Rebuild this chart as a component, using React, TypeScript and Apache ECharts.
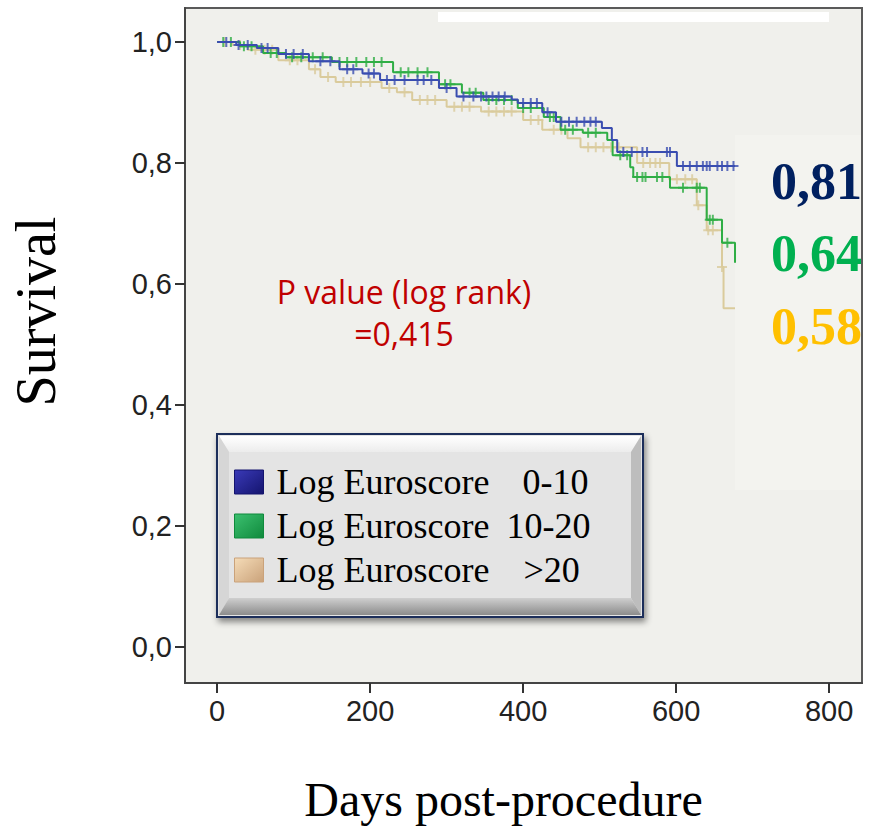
import React, { useEffect, useRef } from "react";
import * as echarts from "echarts";

// Kaplan-Meier steps (day, survival)
const blueTimes = [0, 25, 52, 80, 120, 160, 190, 213, 290, 313, 385, 393, 425, 443, 503, 516, 523, 601, 677];
const blueSurv = [1.0, 0.995, 0.99, 0.98, 0.968, 0.955, 0.948, 0.937, 0.924, 0.91, 0.905, 0.899, 0.884, 0.868, 0.858, 0.838, 0.818, 0.795, 0.795];
const greenTimes = [0, 30, 60, 90, 150, 230, 290, 320, 348, 393, 427, 449, 478, 510, 517, 540, 544, 592, 640, 660, 677];
const greenSurv = [1.0, 0.993, 0.982, 0.975, 0.967, 0.95, 0.93, 0.916, 0.904, 0.891, 0.876, 0.855, 0.85, 0.838, 0.813, 0.793, 0.777, 0.759, 0.706, 0.668, 0.635];
const tanTimes = [0, 20, 40, 80, 120, 135, 155, 215, 235, 255, 300, 345, 400, 425, 458, 475, 549, 591, 627, 640, 660, 662, 677];
const tanSurv = [1.0, 0.995, 0.987, 0.97, 0.955, 0.942, 0.934, 0.924, 0.917, 0.904, 0.893, 0.885, 0.871, 0.855, 0.841, 0.826, 0.8, 0.773, 0.73, 0.689, 0.628, 0.56, 0.56];

// Censored observations (days)
const blueCensor = [12, 28, 40, 58, 66, 90, 100, 112, 135, 148, 170, 178, 198, 205, 222, 232, 245, 262, 270, 280, 300, 322, 335, 345, 352, 360, 368, 376, 400, 410, 418, 432, 450, 460, 470, 480, 488, 495, 531, 542, 556, 562, 588, 592, 609, 618, 627, 635, 640, 644, 654, 660, 667, 675];
const greenCensor = [8, 18, 35, 45, 70, 78, 98, 110, 125, 138, 160, 170, 182, 195, 205, 215, 240, 250, 262, 275, 298, 305, 330, 338, 355, 365, 375, 385, 400, 410, 435, 440, 455, 465, 485, 495, 527, 536, 549, 556, 560, 575, 582, 609, 627, 631, 644, 648, 667];
const tanCensor = [10, 30, 50, 62, 72, 95, 105, 128, 145, 165, 175, 188, 200, 225, 245, 265, 275, 285, 310, 320, 330, 355, 365, 375, 385, 410, 420, 440, 450, 485, 495, 505, 515, 525, 557, 566, 573, 579, 601, 612, 621, 629, 642, 648, 660];

const seriesNames = ["Log Euroscore 0-10", "Log Euroscore 10-20", "Log Euroscore >20"];
const lineColors = ["#3a4db0", "#2fae45", "#dacb9c"];
const iconColors = [
  ["#3a3ab8", "#14146e"],
  ["#3cc070", "#0f8a3c"],
  ["#f5dcb8", "#caa27a"],
];
const xTicks = [0, 200, 400, 600, 800];
const yTicks = [0, 0.2, 0.4, 0.6, 0.8, 1.0];
const finalLabels = ["0,81", "0,64", "0,58"];
const finalLabelColors = ["#002060", "#00b050", "#ffc000"];

const stepValue = (times: number[], surv: number[], t: number) => {
  let v = surv[0];
  for (let i = 0; i < times.length; i++) {
    if (times[i] <= t) v = surv[i];
  }
  return v;
};

const plusSymbol = "path://M-1,-5h2v10h-2zM-5,-1h10v2h-10z";

export default function App() {
  const ref = useRef<HTMLDivElement>(null);
  useEffect(() => {
    if (!ref.current) return;
    const chart = echarts.init(ref.current, null, { renderer: "svg" });
    const groups = [
      { t: blueTimes, s: blueSurv, c: blueCensor },
      { t: greenTimes, s: greenSurv, c: greenCensor },
      { t: tanTimes, s: tanSurv, c: tanCensor },
    ];
    const series: any[] = [];
    groups.forEach((g, i) => {
      series.push({
        name: seriesNames[i],
        type: "line",
        step: "end",
        showSymbol: false,
        data: g.t.map((d, k) => [d, g.s[k]]),
        lineStyle: { color: lineColors[i], width: 2 },
        itemStyle: { color: lineColors[i] },
        z: 3 - i + 2,
      });
      series.push({
        name: seriesNames[i],
        type: "scatter",
        symbol: plusSymbol,
        symbolSize: 10,
        data: g.c.map((d) => [d, stepValue(g.t, g.s, d)]),
        itemStyle: { color: lineColors[i] },
        z: 3 - i + 2,
      });
    });

    const base = { fontFamily: "Liberation Serif", fontSize: 36, color: "#000", lineHeight: 38 };
    const richLegend: any = {
      s: { width: 8 },
      n: { ...base },
      v0: { ...base, padding: [0, 0, 0, 33] },
      v1: { ...base, padding: [0, 0, 0, 17] },
      v2: { ...base, padding: [0, 0, 0, 34] },
    };

    chart.setOption({
      animation: false,
      backgroundColor: "#ffffff",
      grid: {
        left: 185,
        top: 8,
        width: 677,
        height: 675,
        outerBoundsMode: "none",
        containLabel: false,
        show: true,
        backgroundColor: "#f0f0ec",
        borderColor: "#5a5a5a",
        borderWidth: 2,
      },
      xAxis: {
        type: "value",
        min: -42,
        max: 843,
        name: "Days post-procedure",
        nameLocation: "middle",
        nameGap: 92,
        nameTextStyle: { fontFamily: "Liberation Serif", fontSize: 48, color: "#000", padding: [0, 40, 0, 0] },
        axisLine: { show: true, onZero: false, lineStyle: { color: "#444", width: 2 } },
        axisTick: { show: true, customValues: xTicks, length: 10, lineStyle: { color: "#333", width: 2 } },
        axisLabel: {
          customValues: xTicks,
          fontFamily: "Liberation Sans",
          fontSize: 29,
          color: "#222",
          margin: 13,
        },
        splitLine: { show: false },
      },
      yAxis: {
        type: "value",
        min: -0.0595,
        max: 1.0562,
        name: "Survival",
        nameLocation: "middle",
        nameGap: 121,
        nameTextStyle: { fontFamily: "Liberation Serif", fontSize: 56, color: "#000", padding: [0, 0, 0, 68] },
        axisLine: { show: true, onZero: false, lineStyle: { color: "#444", width: 2 } },
        axisTick: { show: true, customValues: yTicks, length: 10, lineStyle: { color: "#333", width: 2 } },
        axisLabel: {
          customValues: yTicks,
          fontFamily: "Liberation Sans",
          fontSize: 29,
          color: "#222",
          margin: 13,
          formatter: (v: number) => v.toFixed(1).replace(".", ","),
        },
        splitLine: { show: false },
      },
      legend: {
        orient: "vertical",
        left: 229,
        top: 459,
        itemWidth: 29,
        itemHeight: 24,
        itemGap: 8,
        icon: "rect",
        selectedMode: false,
        z: 20,
        data: seriesNames.map((n, i) => ({
          name: n,
          icon: "rect",
          itemStyle: {
            color: new echarts.graphic.LinearGradient(0, 0, 1, 1, [
              { offset: 0, color: iconColors[i][0] },
              { offset: 1, color: iconColors[i][1] },
            ]),
            borderColor: iconColors[i][1],
            borderWidth: 1,
          },
        })),
        formatter: (name: string) => {
          const i = seriesNames.indexOf(name);
          const v = name.replace("Log Euroscore ", "");
          return `{s| }{n|Log Euroscore}{v${i}|${v}}`;
        },
        textStyle: { fontFamily: "Liberation Serif", fontSize: 36, color: "#000", rich: richLegend },
      },
      graphic: [
        { type: "rect", shape: { x: 438, y: 12, width: 391, height: 10 }, style: { fill: "#ffffff" }, z: 10 },
        { type: "rect", shape: { x: 735, y: 135, width: 126, height: 355 }, style: { fill: "rgba(255,255,255,0.2)" }, z: 1, silent: true },
        ...finalLabels.map((t, i) => ({
          type: "text",
          x: 771,
          y: 181 + i * 72.5,
          style: {
            text: t,
            fill: finalLabelColors[i],
            font: "bold 52px 'Liberation Serif'",
            textVerticalAlign: "middle",
          },
          z: 10,
        })),
        {
          type: "text",
          x: 404,
          y: 291,
          style: { text: "P value (log rank)", fill: "#c00000", font: "32px 'Open Sans'", textAlign: "center", textVerticalAlign: "middle" },
          z: 10,
        },
        {
          type: "text",
          x: 404,
          y: 333,
          style: { text: "=0,415", fill: "#c00000", font: "32px 'Open Sans'", textAlign: "center", textVerticalAlign: "middle" },
          z: 10,
        },
        {
          type: "group",
          z: 15,
          children: [
            {
              type: "rect",
              shape: { x: 217, y: 434, width: 426, height: 183 },
              style: { fill: "#e4e4e4", stroke: "#1f2f5a", lineWidth: 2, shadowBlur: 6, shadowOffsetX: 2, shadowOffsetY: 4, shadowColor: "rgba(0,0,0,0.45)" },
              z: 15,
            },
            {
              type: "polygon",
              shape: { points: [[219, 436], [641, 436], [631, 452], [229, 452]] },
              style: { fill: new echarts.graphic.LinearGradient(0, 0, 0, 1, [{ offset: 0, color: "#ffffff" }, { offset: 1, color: "#ececec" }]) },
              z: 16,
            },
            {
              type: "polygon",
              shape: { points: [[219, 436], [229, 452], [229, 598], [219, 615]] },
              style: { fill: "#d6d6d6" },
              z: 16,
            },
            {
              type: "polygon",
              shape: { points: [[641, 436], [641, 615], [631, 598], [631, 452]] },
              style: { fill: "#bdbdbd" },
              z: 16,
            },
            {
              type: "polygon",
              shape: { points: [[219, 615], [641, 615], [631, 598], [229, 598]] },
              style: { fill: new echarts.graphic.LinearGradient(0, 0, 0, 1, [{ offset: 0, color: "#cfcfcf" }, { offset: 1, color: "#8c8c8c" }]) },
              z: 16,
            },
          ],
        },
      ],
      series,
    });
    return () => chart.dispose();
  }, []);
  return <div ref={ref} style={{ position: "absolute", left: 0, top: 0, width: 876, height: 830 }} />;
}
